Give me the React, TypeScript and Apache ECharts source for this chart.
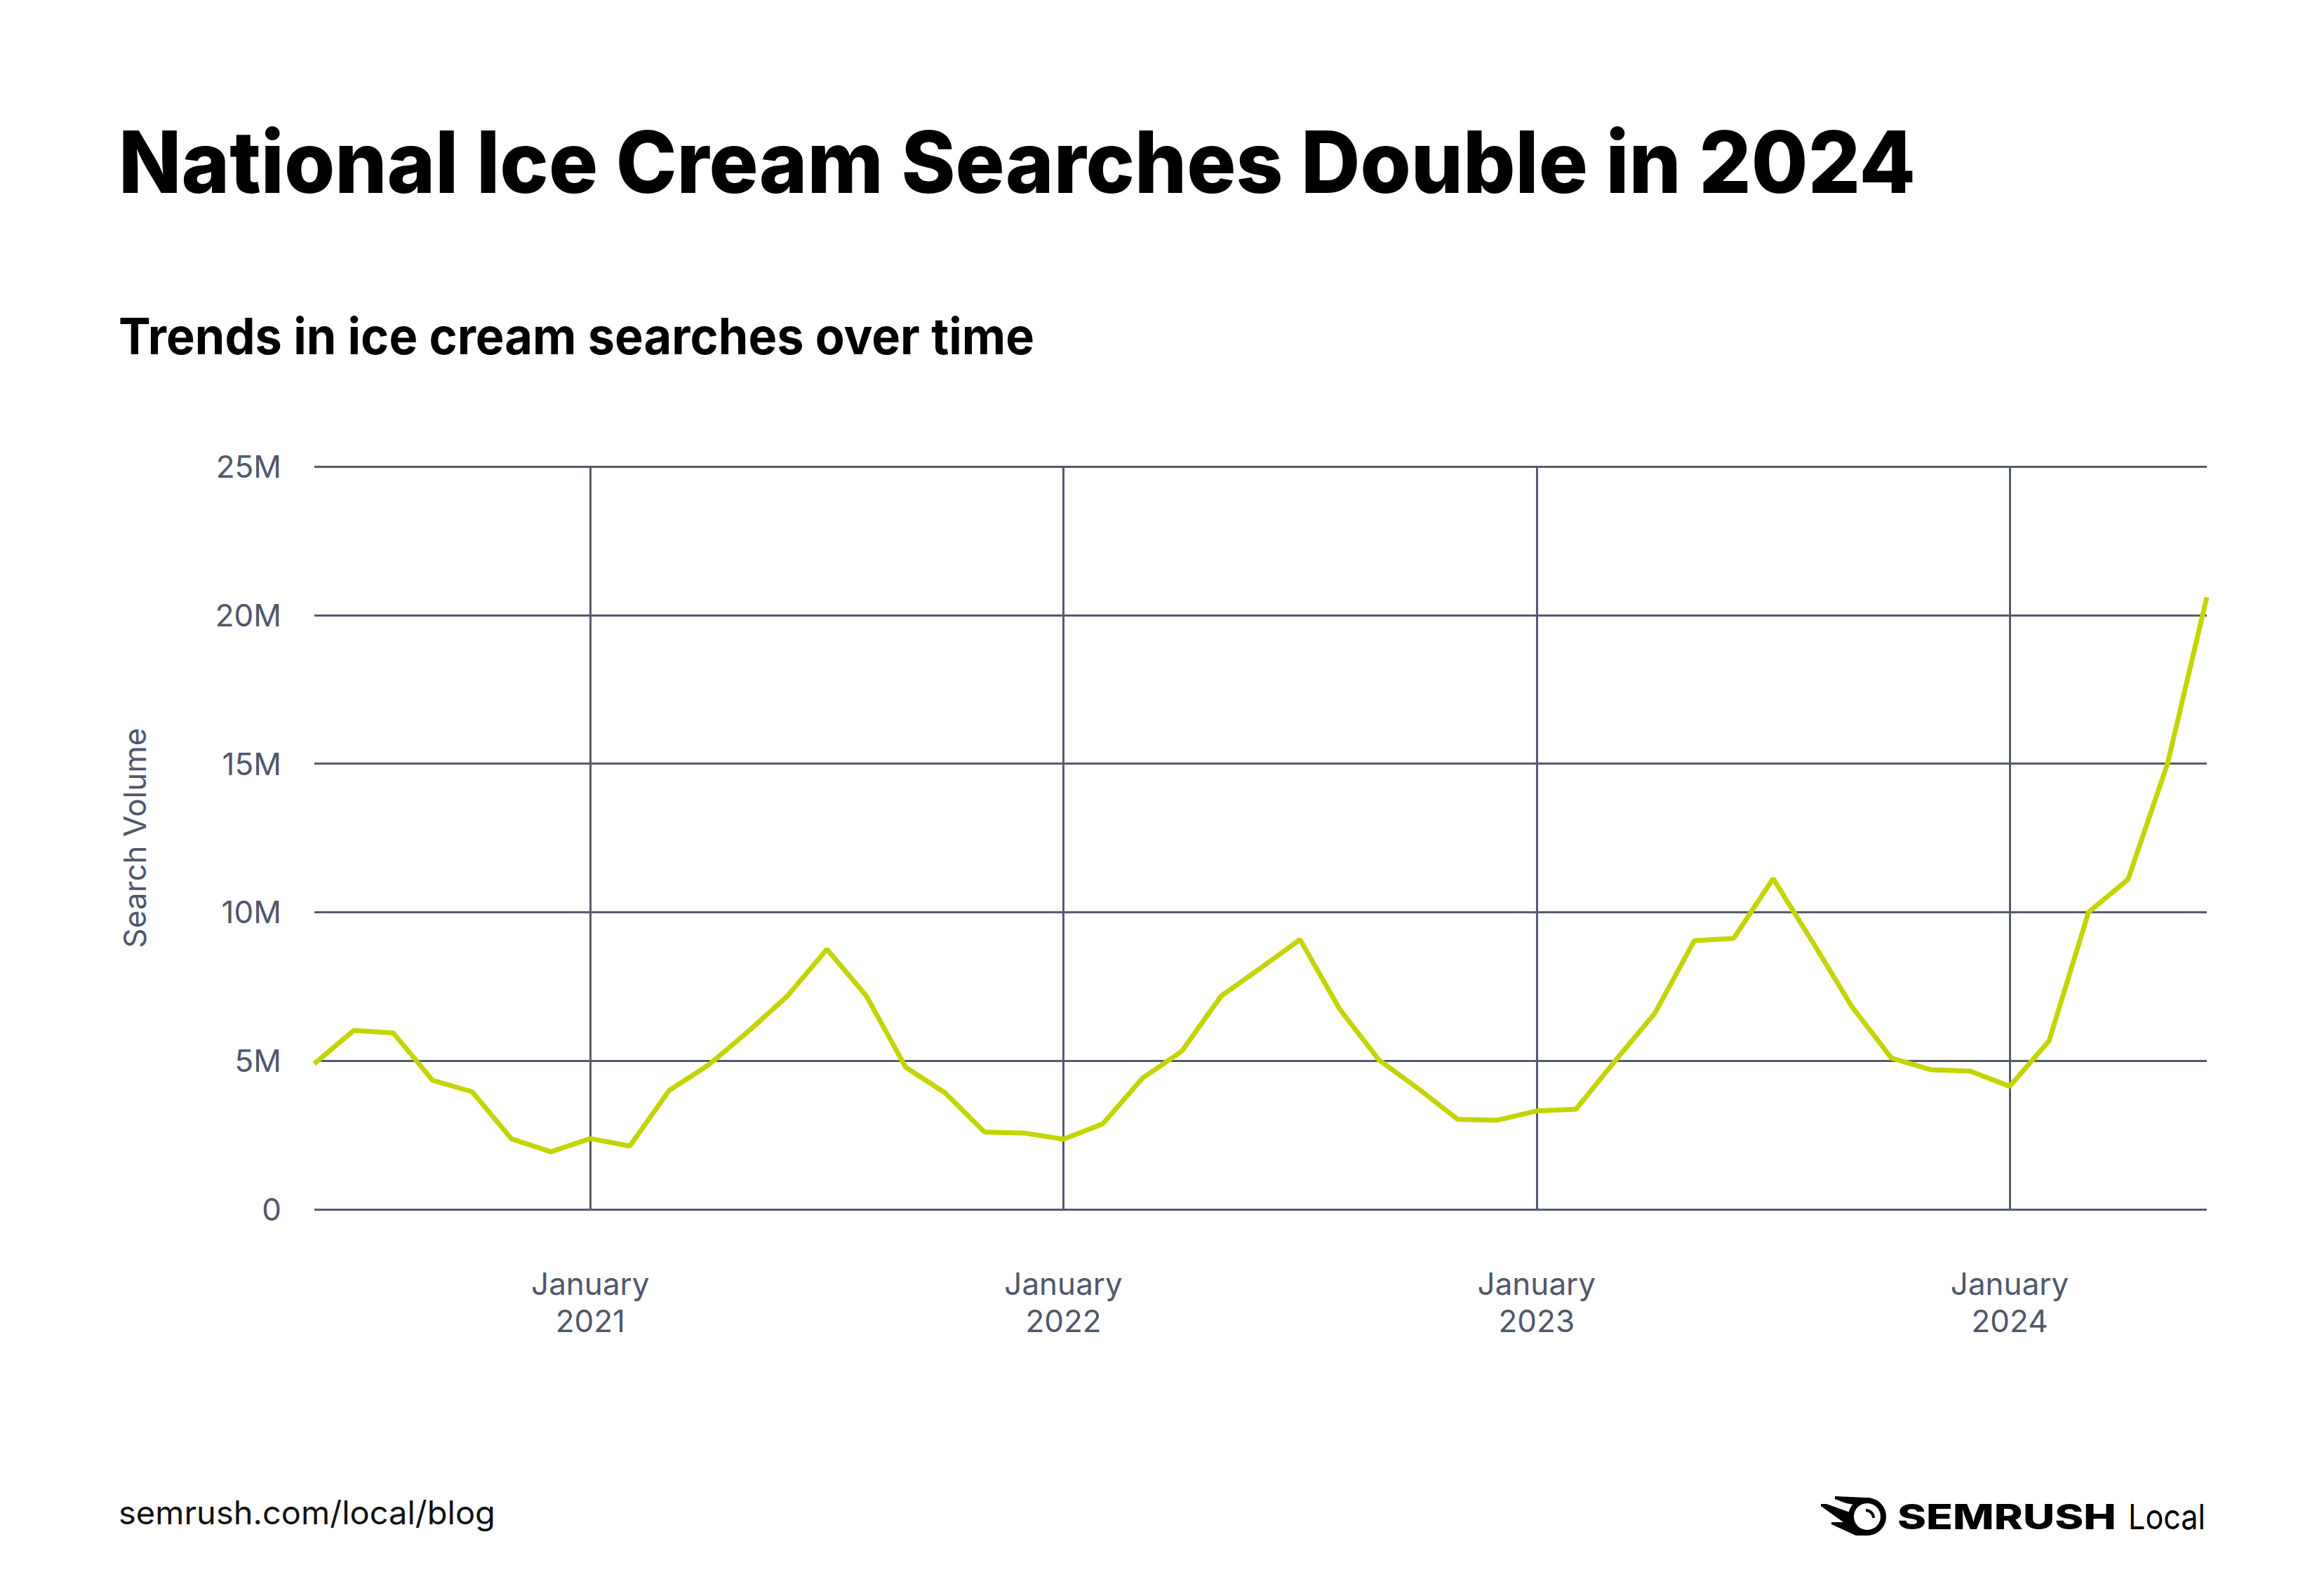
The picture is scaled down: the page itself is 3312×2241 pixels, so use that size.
import React, { useEffect, useRef } from "react";
import * as echarts from "echarts";

const TITLE = "National Ice Cream Searches Double in 2024";
const SUBTITLE = "Trends in ice cream searches over time";
const Y_AXIS_NAME = "Search Volume";
const FOOTER_URL = "semrush.com/local/blog";
const BRAND = "SEMRUSH";
const BRAND_SUFFIX = "Local";

const months = [
  "2020-06", "2020-07", "2020-08", "2020-09", "2020-10", "2020-11", "2020-12",
  "2021-01", "2021-02", "2021-03", "2021-04", "2021-05", "2021-06", "2021-07", "2021-08", "2021-09", "2021-10", "2021-11", "2021-12",
  "2022-01", "2022-02", "2022-03", "2022-04", "2022-05", "2022-06", "2022-07", "2022-08", "2022-09", "2022-10", "2022-11", "2022-12",
  "2023-01", "2023-02", "2023-03", "2023-04", "2023-05", "2023-06", "2023-07", "2023-08", "2023-09", "2023-10", "2023-11", "2023-12",
  "2024-01", "2024-02", "2024-03", "2024-04", "2024-05", "2024-06",
];

// search volume in millions
const searchVolumeM = [
  4.9, 6.02, 5.94, 4.34, 3.96, 2.37, 1.94,
  2.38, 2.13, 4.0, 4.86, 5.98, 7.18, 8.75, 7.18, 4.78, 3.92, 2.6, 2.57,
  2.36, 2.88, 4.41, 5.32, 7.18, 8.12, 9.08, 6.75, 5.03, 4.06, 3.03, 3.0,
  3.31, 3.37, 5.01, 6.6, 9.04, 9.12, 11.13, 9.0, 6.82, 5.09, 4.7, 4.65,
  4.14, 5.67, 10.0, 11.1, 14.98, 20.6,
];

const yTickLabels = ["0", "5M", "10M", "15M", "20M", "25M"];
const xLabelMonthName = "January";

const measure = (text: string, font: string) => {
  const ctx = document.createElement("canvas").getContext("2d");
  if (!ctx) return 1;
  ctx.font = font;
  return ctx.measureText(text).width || 1;
};

export default function App() {
  const ref = useRef<HTMLDivElement>(null);

  useEffect(() => {
    if (!ref.current) return;
    const chart = echarts.init(ref.current, undefined, { renderer: "svg" });
    const ff = "Inter";
    const axisColor = "#50576b";
    const gridColor = "#555b6e";
    const lineColor = "#c4d400";

    const titleFont = `800 122px ${ff}`;
    const subFont = `bold 72px ${ff}`;
    const footFont = `normal 46px ${ff}`;
    const brandFont = `800 50px ${ff}`;
    const localFont = `normal 50px ${ff}`;

    const titleScale = 2562 / measure(TITLE, titleFont);
    const subScale = 1305 / measure(SUBTITLE, subFont);
    const footScale = 537 / measure(FOOTER_URL, footFont);
    const brandScale = 312 / measure(BRAND, brandFont);
    const localScale = 110 / measure(BRAND_SUFFIX, localFont);

    chart.setOption({
      animation: false,
      backgroundColor: "#ffffff",
      grid: { left: 448, right: 167, top: 665, bottom: 517 },
      xAxis: {
        type: "category",
        data: months,
        boundaryGap: false,
        axisLine: { show: false },
        axisTick: { show: false },
        axisLabel: {
          interval: (i: number) => i % 12 === 7,
          formatter: (v: string) => `${xLabelMonthName}\n${v.slice(0, 4)}`,
          fontFamily: ff,
          fontSize: 44,
          lineHeight: 53,
          color: axisColor,
          margin: 79,
        },
        splitLine: {
          show: true,
          interval: (i: number) => i % 12 === 7,
          lineStyle: { color: gridColor, width: 3 },
        },
      },
      yAxis: {
        type: "value",
        min: 0,
        max: 25,
        interval: 5,
        axisLine: { show: false },
        axisTick: { show: false },
        axisLabel: {
          formatter: (v: number) => yTickLabels[Math.round(v / 5)],
          fontFamily: ff,
          fontSize: 44,
          color: axisColor,
          margin: 47,
        },
        splitLine: { show: true, lineStyle: { color: gridColor, width: 3 } },
        name: Y_AXIS_NAME,
        nameLocation: "middle",
        nameRotate: 90,
        nameGap: 234,
        nameTextStyle: { fontFamily: ff, fontSize: 44, color: axisColor },
      },
      series: [
        {
          type: "line",
          data: searchVolumeM,
          showSymbol: false,
          symbol: "none",
          lineStyle: { color: lineColor, width: 7 },
          itemStyle: { color: lineColor },
        },
      ],
      graphic: [
        {
          type: "text",
          x: 169,
          y: 170,
          scaleX: titleScale,
          style: { text: TITLE, font: titleFont, fill: "#000000", align: "left", verticalAlign: "top" },
        },
        {
          type: "text",
          x: 169,
          y: 443,
          scaleX: subScale,
          style: { text: SUBTITLE, font: subFont, fill: "#000000", align: "left", verticalAlign: "top" },
        },
        {
          type: "text",
          x: 169,
          y: 2156,
          scaleX: footScale,
          style: { text: FOOTER_URL, font: footFont, fill: "#111111", align: "left", verticalAlign: "middle" },
        },
        {
          type: "text",
          x: 2704,
          y: 2162,
          scaleX: brandScale,
          style: { text: BRAND, font: brandFont, fill: "#000000", align: "left", verticalAlign: "middle" },
        },
        {
          type: "text",
          x: 3033,
          y: 2162,
          scaleX: localScale,
          style: { text: BRAND_SUFFIX, font: localFont, fill: "#000000", align: "left", verticalAlign: "middle" },
        },
        // logo mark
        {
          type: "ring",
          shape: { cx: 2661, cy: 2162, r: 27, r0: 19 },
          style: { fill: "#000000" },
        },
        {
          type: "arc",
          shape: { cx: 2659, cy: 2164, r: 11, startAngle: -Math.PI / 2, endAngle: 0, clockwise: true },
          style: { stroke: "#000000", lineWidth: 4, fill: "none" },
        },
        {
          type: "polygon",
          shape: { points: [[2615, 2133], [2660, 2135], [2648, 2146], [2631, 2143], [2615, 2137]] },
          style: { fill: "#000000" },
        },
        {
          type: "polygon",
          shape: { points: [[2595, 2144], [2603, 2144], [2642, 2158], [2640, 2172], [2627, 2170], [2595, 2147]] },
          style: { fill: "#000000" },
        },
        {
          type: "polygon",
          shape: { points: [[2610, 2170], [2636, 2170], [2662, 2189], [2645, 2189], [2610, 2173]] },
          style: { fill: "#000000" },
        },
      ],
    });

    return () => chart.dispose();
  }, []);

  return (
    <div
      ref={ref}
      style={{ position: "fixed", left: 0, top: 0, width: 3312, height: 2241, background: "#ffffff" }}
    />
  );
}
